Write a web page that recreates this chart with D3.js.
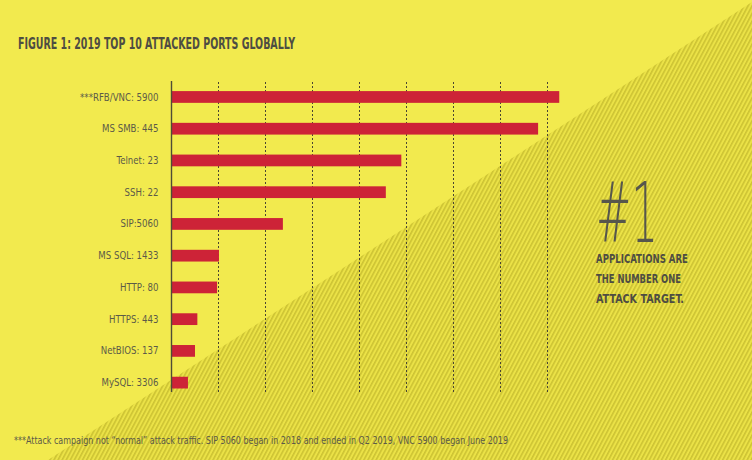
<!DOCTYPE html>
<html>
<head>
<meta charset="utf-8">
<script src="https://cdn.jsdelivr.net/npm/d3@7"></script>
<style>
  html, body { margin: 0; padding: 0; background: #f2ea4e; }
  svg { display: block; }
</style>
</head>
<body>
<script>
// ---- data ----
const categories = ["***RFB/VNC: 5900", "MS SMB: 445", "Telnet: 23", "SSH: 22", "SIP:5060",
                    "MS SQL: 1433", "HTTP: 80", "HTTPS: 443", "NetBIOS: 137", "MySQL: 3306"];
const values = [8.25, 7.8, 4.89, 4.56, 2.37, 1.01, 0.97, 0.55, 0.5, 0.35];
const gridTicks = [1, 2, 3, 4, 5, 6, 7, 8];
const title = "FIGURE 1: 2019 TOP 10 ATTACKED PORTS GLOBALLY";
const calloutBig = "#1";
const calloutLines = ["APPLICATIONS ARE", "THE NUMBER ONE", "ATTACK TARGET."];
const footnote = "***Attack campaign not \u201cnormal\u201d attack traffic. SIP 5060 began in 2018 and ended in Q2 2019, VNC 5900 began June 2019";

const W = 752, H = 460;
const svg = d3.select("body").append("svg").attr("width", W).attr("height", H);

// background
svg.append("rect").attr("width", W).attr("height", H).attr("fill", "#f2ea4e");
const defs = svg.append("defs");
const pat = defs.append("pattern").attr("id", "hatch").attr("patternUnits", "userSpaceOnUse")
  .attr("width", 3.6).attr("height", 10).attr("patternTransform", "rotate(28)");
pat.append("rect").attr("width", 3.6).attr("height", 10).attr("fill", "#ebe247");
pat.append("rect").attr("width", 1.6).attr("height", 10).attr("fill", "#cdc333");
svg.append("path").attr("d", "M752,2 L752,460 L48,460 Z").attr("fill", "url(#hatch)");

// scales
const x = d3.scaleLinear().domain([0, 8]).range([171.5, 547.5]);
const y = d3.scaleBand().domain(categories).range([81.1, 398.5]).paddingInner(0.63).paddingOuter(0.315);

const textCol = "#5c5a48";
const narrow = "'Liberation Sans Narrow', 'DejaVu Sans Condensed', 'Roboto Condensed', sans-serif";

// gridlines
svg.append("g").selectAll("line").data(gridTicks).join("line")
  .attr("x1", d => x(d)).attr("x2", d => x(d))
  .attr("y1", 82).attr("y2", 392)
  .attr("stroke", "#4a4632").attr("stroke-width", 1)
  .attr("stroke-dasharray", "2,2");

// bars
svg.append("g").selectAll("rect").data(values).join("rect")
  .attr("x", x(0)).attr("y", (d, i) => y(categories[i]))
  .attr("width", d => x(d) - x(0)).attr("height", y.bandwidth())
  .attr("fill", "#cd2337");

// axis
const sx = 0.87;
const yAxis = d3.axisLeft(y).tickSize(0).tickPadding(13);
const ag = svg.append("g").attr("transform", `translate(${x(0)},0)`).call(yAxis);
ag.select(".domain").remove();
ag.selectAll("text").attr("fill", textCol).attr("font-family", narrow).attr("font-size", 11)
  .attr("x", -13 / sx).attr("transform", `scale(${sx},1)`);
svg.append("line").attr("x1", x(0)).attr("x2", x(0)).attr("y1", 81).attr("y2", 392)
  .attr("stroke", "#4f4c36").attr("stroke-width", 1.4);

// title
svg.append("text").attr("x", 18).attr("y", 49).text(title)
  .attr("font-family", narrow).attr("font-weight", "bold").attr("font-size", 16)
  .attr("fill", "#4e4d42").attr("textLength", 277).attr("lengthAdjust", "spacingAndGlyphs");

// callout
svg.append("text").attr("x", 596).attr("y", 242).text(calloutBig)
  .attr("font-family", "'DejaVu Sans', sans-serif").attr("font-weight", 200).attr("font-size", 84)
  .attr("fill", "#56564c").attr("textLength", 62).attr("lengthAdjust", "spacingAndGlyphs");
const lineW = [92, 85, 88];
const lineY = [262.5, 283, 302.5];
svg.append("g").selectAll("text").data(calloutLines).join("text")
  .attr("x", 596).attr("y", (d, i) => lineY[i]).text(d => d)
  .attr("font-family", narrow).attr("font-weight", "bold").attr("font-size", 11.5)
  .attr("fill", "#4e4d42")
  .attr("textLength", (d, i) => lineW[i]).attr("lengthAdjust", "spacingAndGlyphs");

// footnote
svg.append("text").attr("x", 14).attr("y", 443.5).text(footnote)
  .attr("font-family", narrow).attr("font-size", 10).attr("fill", textCol)
  .attr("textLength", 494).attr("lengthAdjust", "spacingAndGlyphs");
</script>
</body>
</html>
